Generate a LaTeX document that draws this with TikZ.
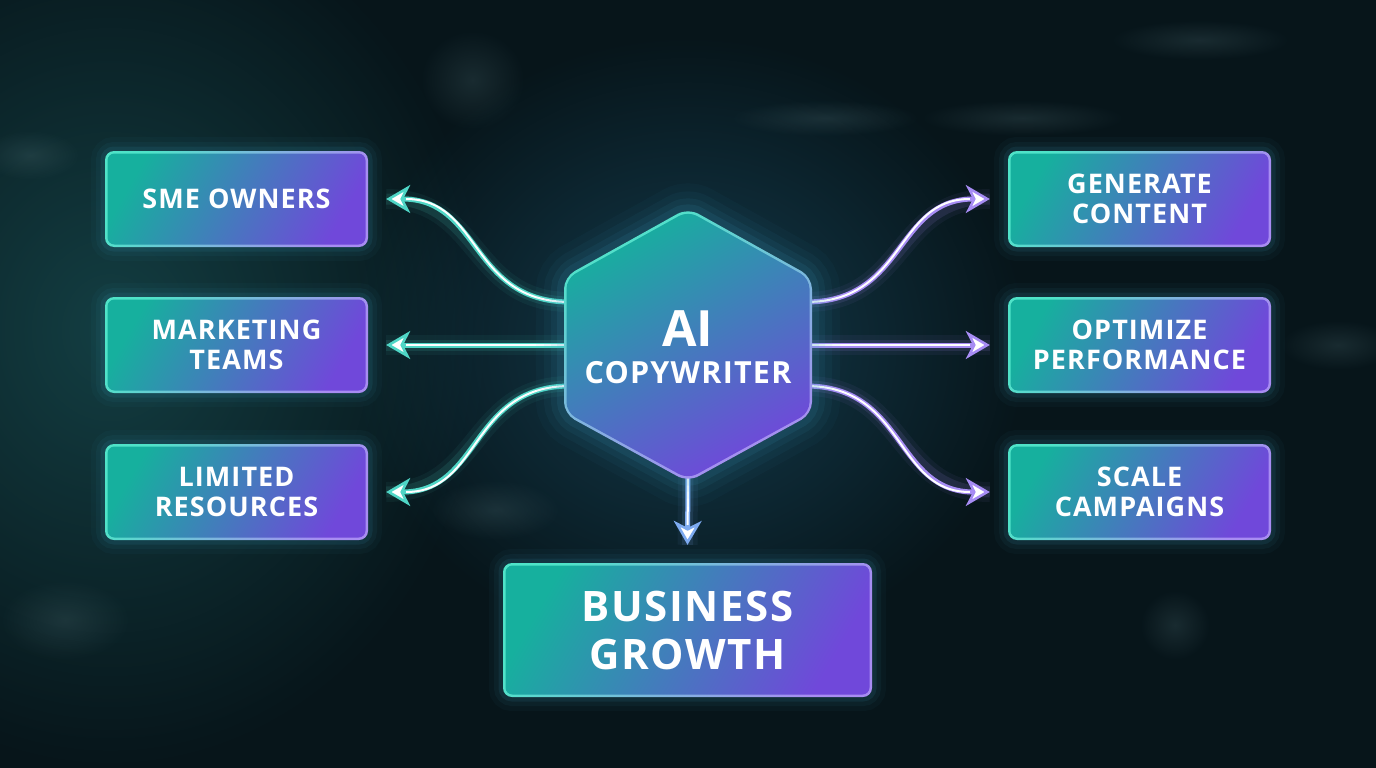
\documentclass[tikz,border=0pt]{standalone}
\usepackage{fontspec}
\setmainfont{Open Sans}
\newfontfamily\wideFont{Open Sans}[LetterSpace=4]
\usetikzlibrary{arrows.meta,fadings}
\tikzfading[name=glowfade, inner color=transparent!0, outer color=transparent!100]
\definecolor{bg}{HTML}{07151A}
\definecolor{fillT}{HTML}{16B09E}
\definecolor{fillP}{HTML}{7048DA}
\definecolor{bordT}{HTML}{4FE3C8}
\definecolor{bordP}{HTML}{A88CF2}
\definecolor{glowC}{HTML}{3FA6C8}
\definecolor{lc}{HTML}{4FD6C6}
\definecolor{rc}{HTML}{A78CF4}
\definecolor{dc}{HTML}{7DAAF0}
\definecolor{ambT}{HTML}{1C5A5E}
\definecolor{ambC}{HTML}{1D5570}
\definecolor{blob}{HTML}{5A7A80}
\tikzset{
  boxtext/.style={text=white, align=center, font=\wideFont\fontsize{27}{30}\selectfont\bfseries},
  gbox/.style={boxtext, rounded corners=9pt, minimum width=263pt, minimum height=96pt, inner sep=0pt,
    left color=bordT, right color=bordP, shading angle=60,
    preaction={draw=glowC, line width=28pt, opacity=0.04},
    preaction={draw=glowC, line width=18pt, opacity=0.06},
    preaction={draw=glowC, line width=9pt, opacity=0.10},
    path picture={\shade[left color=fillT, right color=fillP, shading angle=60, rounded corners=7pt]
      ([shift={(2.5pt,2.5pt)}]path picture bounding box.south west) rectangle
      ([shift={(-2.5pt,-2.5pt)}]path picture bounding box.north east);}},
  conn/.style={draw=#1, line width=5pt,
    preaction={draw=#1, line width=20pt, opacity=0.06, arrows=-},
    preaction={draw=#1, line width=11pt, opacity=0.12, arrows=-},
    postaction={draw=white, line width=2pt, arrows=-, shorten >=20pt},
    arrows={-Stealth[length=24pt, width=28pt, inset=7pt, fill=white, line width=2.6pt]}},
  bgblob/.style={blob, opacity=0.22, path fading=glowfade},
}
\begin{document}
\begin{tikzpicture}[x=1pt,y=-1pt]
\useasboundingbox (0,0) rectangle (1376,768);
\fill[bg] (0,0) rectangle (1376,768);
% ambient background
\fill[ambT, opacity=0.6, path fading=glowfade] (110,330) ellipse (380 and 440);
\fill[ambC, opacity=0.6, path fading=glowfade] (688,345) ellipse (340 and 310);
\fill[bgblob] (1110,20) rectangle (1290,60);
\fill[bgblob] (730,100) rectangle (920,136);
\fill[bgblob] (920,100) rectangle (1125,136);
\fill[bgblob] (420,30) rectangle (525,130);
\fill[bgblob] (-20,130) rectangle (80,180);
\fill[bgblob] (1280,320) rectangle (1396,370);
\fill[bgblob] (0,580) rectangle (130,660);
\fill[bgblob] (1140,590) rectangle (1210,660);
\fill[bgblob] (430,480) rectangle (560,540);
% boxes
\node[gbox] (sme) at (236.5,199) {SME OWNERS};
\node[gbox] (mkt) at (236.5,345) {MARKETING\\TEAMS};
\node[gbox] (lim) at (236.5,492) {LIMITED\\RESOURCES};
\node[gbox] (gen) at (1139.5,199) {GENERATE\\CONTENT};
\node[gbox] (opt) at (1139.5,345) {OPTIMIZE\\PERFORMANCE};
\node[gbox] (scl) at (1139.5,492) {SCALE\\CAMPAIGNS};
\node[gbox, minimum width=369pt, minimum height=134pt, font=\wideFont\fontsize{42}{48}\selectfont\bfseries] (grow) at (687.5,630) {BUSINESS\\GROWTH};
% connector start points on the hexagon
\coordinate (hL1) at (570,302);
\coordinate (hL2) at (570,345);
\coordinate (hL3) at (570,386);
\coordinate (hR1) at (806,302);
\coordinate (hR2) at (806,345);
\coordinate (hR3) at (806,386);
\coordinate (hB) at (688,476);
% connectors
\draw[conn=lc] (hL1) .. controls +(-100,0) and +(95,0) .. ([xshift=18pt]sme.east);
\draw[conn=lc] (hL2) -- ([xshift=18pt]mkt.east);
\draw[conn=lc] (hL3) .. controls +(-100,0) and +(95,0) .. ([xshift=18pt]lim.east);
\draw[conn=rc] (hR1) .. controls +(100,0) and +(-95,0) .. ([xshift=-18pt]gen.west);
\draw[conn=rc] (hR2) -- ([xshift=-18pt]opt.west);
\draw[conn=rc] (hR3) .. controls +(100,0) and +(-95,0) .. ([xshift=-18pt]scl.west);
\draw[conn=dc] (hB) -- ([yshift=18pt]grow.north);
% hexagon
\foreach \w/\o in {56/0.04,40/0.05,26/0.07,14/0.1}{
  \draw[draw=glowC, line width=\w pt, opacity=\o, rounded corners=12pt]
    (688,208) -- (812,277) -- (812,414) -- (688,482) -- (564,414) -- (564,277) -- cycle;}
\shade[top color=bordT, bottom color=bordP, shading angle=30, rounded corners=12pt]
  (688,208) -- (812,277) -- (812,414) -- (688,482) -- (564,414) -- (564,277) -- cycle;
\shade[top color=fillT, bottom color=fillP, shading angle=30, rounded corners=10pt]
  (688,211) -- (809.5,278.5) -- (809.5,412.5) -- (688,479) -- (566.5,412.5) -- (566.5,278.5) -- cycle;
\node[anchor=base, text=white, font=\fontsize{50}{50}\selectfont\bfseries] (ai) at (688,346) {AI};
\node[anchor=base, text=white, font=\wideFont\fontsize{30.5}{32}\selectfont\bfseries] (aisub) at (688,383) {COPYWRITER};
\end{tikzpicture}
\end{document}
